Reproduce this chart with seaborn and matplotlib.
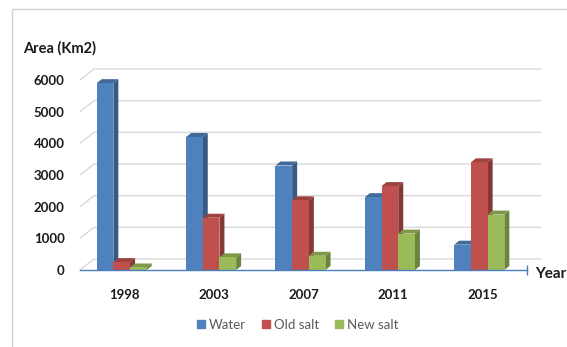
import pandas as pd
import matplotlib
matplotlib.use("Agg")
import matplotlib.pyplot as plt
import matplotlib.colors as mcolors
from matplotlib.lines import Line2D
from matplotlib.patches import Polygon
import seaborn as sns

# Chart data
years = ["1998", "2003", "2007", "2011", "2015"]
water = [5900, 4200, 3300, 2300, 800]
old_salt = [250, 1650, 2200, 2650, 3400]
new_salt = [80, 400, 450, 1150, 1750]
series_names = ["Water", "Old salt", "New salt"]
y_ticks = [0, 1000, 2000, 3000, 4000, 5000, 6000]

colors = ["#4F81BD", "#C0504D", "#9BBB59"]

df = pd.DataFrame({
    "Year": years * 3,
    "Area": water + old_salt + new_salt,
    "Type": [n for n in series_names for _ in years],
})

sns.set_style("white")
plt.rcParams['font.family'] = ['Lato', 'DejaVu Sans']

W, H = 567, 347
fig = plt.figure(figsize=(W / 100, H / 100), dpi=100)
ax = fig.add_axes([80 / W, (H - 270) / H, (527 - 80) / W, 190 / H])

sns.barplot(data=df, x="Year", y="Area", hue="Type", palette=colors,
            saturation=1, width=0.56, linewidth=0, legend=False, ax=ax)

ax.set_xlim(-0.5, 4.5)
ax.set_ylim(0, 6000)
ax.set_yticks(y_ticks)


def px(dx, dy):
    """convert a pixel offset into data units"""
    x0, x1 = ax.get_xlim()
    y0, y1 = ax.get_ylim()
    pos = ax.get_position()
    return dx * (x1 - x0) / (pos.width * W), dy * (y1 - y0) / (pos.height * H)


def shade(c, f):
    r, g, b = mcolors.to_rgb(c)
    return (r * f, g * f, b * f)


# back wall gridlines (shifted by perspective)
gx, gy = px(14, 11)
xa, xb = ax.get_xlim()
for t in ax.get_yticks():
    ax.plot([xa, xa + gx, xb + gx], [t, t + gy, t + gy], color="#d9d9d9",
            lw=1, zorder=0.5, clip_on=False)

# fake 3D faces on every bar (groups sit a little left of the tick)
bx, by = px(5, 4)
shift, _ = px(-3, 0)
bars = sorted(ax.patches, key=lambda p: p.get_x())
for i, p in enumerate(bars):
    z = 2 + i * 0.01
    p.set_x(p.get_x() + shift)
    x0 = p.get_x()
    x1 = x0 + p.get_width()
    h = p.get_height()
    c = p.get_facecolor()
    p.set_zorder(z)
    side = Polygon([(x1, 0), (x1 + bx, by), (x1 + bx, h + by), (x1, h)],
                   closed=True, facecolor=shade(c, 0.7), edgecolor="none",
                   zorder=z - 0.005, clip_on=False)
    top = Polygon([(x0, h), (x0 + bx, h + by), (x1 + bx, h + by), (x1, h)],
                  closed=True, facecolor=shade(c, 0.82), edgecolor="none",
                  zorder=z - 0.004, clip_on=False)
    ax.add_patch(side)
    ax.add_patch(top)

for s in ["left", "right", "top"]:
    ax.spines[s].set_visible(False)
ax.spines["bottom"].set_color("#4a7ebb")
ax.spines["bottom"].set_linewidth(1)
ax.spines["bottom"].set_zorder(5)

ax.tick_params(axis="y", length=0, pad=11, labelsize=9.5)
ax.tick_params(axis="x", length=4, width=1, color="#4a7ebb", pad=10,
               labelsize=9.5, direction="out")
for lab in ax.get_xticklabels() + ax.get_yticklabels():
    lab.set_fontweight("bold")
    lab.set_color("#1a1a1a")
ax.set_xlabel("")
ax.set_ylabel("")

# end mark of the x axis
ax.plot([1], [0], marker="|", markersize=7, color="#4a7ebb",
        transform=ax.transAxes, clip_on=False, zorder=6)

fig.text(23 / W, 1 - 48 / H, "Area (Km2)", fontsize=10.5, fontweight="bold",
         va="center", ha="left", color="#1a1a1a")
fig.text(535 / W, 1 - 274 / H, "Year", fontsize=11, fontweight="bold",
         va="center", ha="left", color="#1a1a1a")

handles = [Line2D([], [], marker="s", linestyle="none", markersize=5.5,
                  color=c, label=n) for c, n in zip(colors, series_names)]
leg = fig.legend(handles=handles, loc="center", ncol=3, frameon=False,
                 bbox_to_anchor=(297 / W, 1 - 325 / H), fontsize=9.5,
                 handletextpad=0.2, columnspacing=1.1, handlelength=0.8)
for t in leg.get_texts():
    t.set_color("#595959")

# light frame of the chart area
fig.add_artist(Line2D([12 / W, 12 / W], [0, 1 - 9 / H], color="#d0d0d0", lw=1))
fig.add_artist(Line2D([12 / W, 1], [1 - 9 / H, 1 - 9 / H], color="#d0d0d0", lw=1))

fig.savefig("out.png", dpi=100)
